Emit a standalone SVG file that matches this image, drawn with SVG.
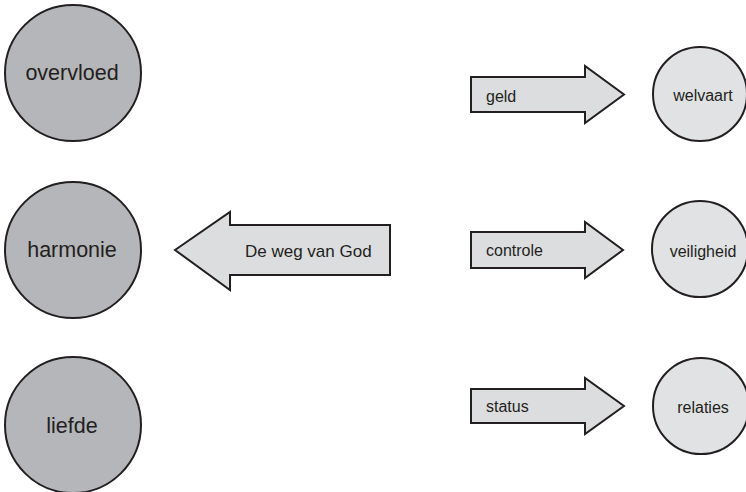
<svg xmlns="http://www.w3.org/2000/svg" width="746" height="492" viewBox="0 0 746 492">
  <style>
    .big { fill: #b5b6b9; stroke: #231f20; stroke-width: 2; }
    .small { fill: #e1e2e3; stroke: #231f20; stroke-width: 2; }
    .arrow { fill: #dcdddf; stroke: #231f20; stroke-width: 2; stroke-linejoin: miter; }
    text { font-family: "Liberation Sans", Arial, sans-serif; fill: #231f20; }
    .bl { font-size: 21.5px; text-anchor: middle; }
    .sl { font-size: 16px; text-anchor: middle; }
    .al { font-size: 16px; }
  </style>
  <rect width="746" height="492" fill="#ffffff"/>
  <g id="overvloed">
    <circle class="big" cx="73" cy="73" r="68"/>
    <text class="bl" x="72" y="80">overvloed</text>
  </g>
  <g id="harmonie">
    <circle class="big" cx="73" cy="250" r="68"/>
    <text class="bl" x="72" y="257">harmonie</text>
  </g>
  <g id="liefde">
    <circle class="big" cx="73" cy="425" r="68"/>
    <text class="bl" x="72" y="433">liefde</text>
  </g>
  <g id="welvaart">
    <circle class="small" cx="700" cy="94" r="47"/>
    <text class="sl" x="703" y="101">welvaart</text>
  </g>
  <g id="veiligheid">
    <circle class="small" cx="700" cy="249" r="48"/>
    <text class="sl" x="703" y="257">veiligheid</text>
  </g>
  <g id="relaties">
    <circle class="small" cx="701" cy="406" r="48"/>
    <text class="sl" x="703" y="413">relaties</text>
  </g>
  <g id="connectors">
    <g id="de-weg-van-god">
      <polygon class="arrow" points="175,250 230,212 230,225 390,225 390,275 230,275 230,290"/>
      <text class="al" x="245" y="257" style="font-size:17px">De weg van God</text>
    </g>
    <g id="geld">
      <polygon class="arrow" points="471,77 585,77 585,66 624,94.5 585,123 585,112 471,112"/>
      <text class="al" x="486" y="102">geld</text>
    </g>
    <g id="controle">
      <polygon class="arrow" points="471,232 585,232 585,222 623,250 585,278 585,268 471,268"/>
      <text class="al" x="486" y="256">controle</text>
    </g>
    <g id="status">
      <polygon class="arrow" points="471,389 585,389 585,378 624,406 585,434 585,423 471,423"/>
      <text class="al" x="486" y="412">status</text>
    </g>
  </g>
</svg>
